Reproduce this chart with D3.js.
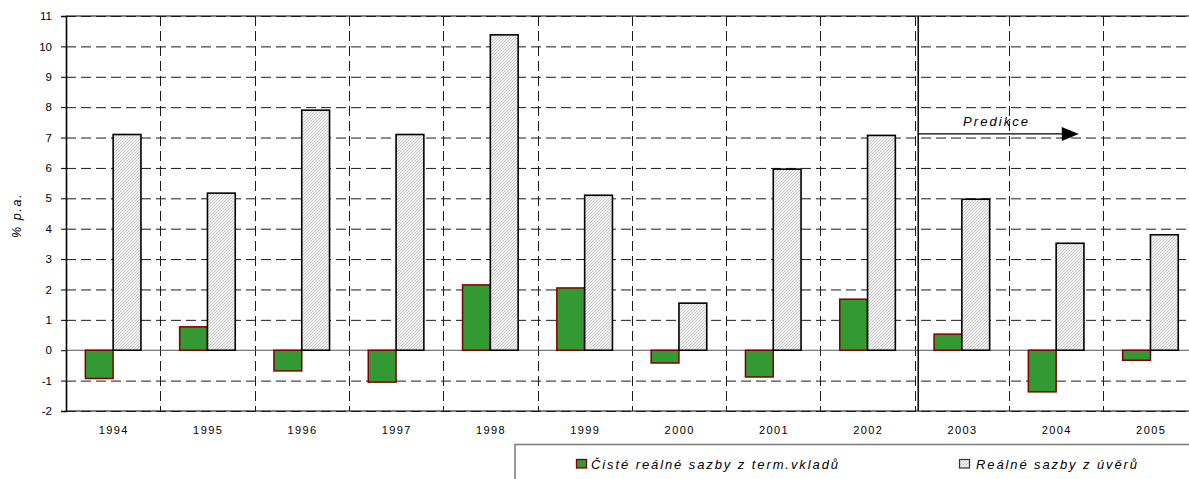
<!DOCTYPE html>
<html>
<head>
<meta charset="utf-8">
<script src="https://cdn.jsdelivr.net/npm/d3@7"></script>
<style>
  html, body { margin: 0; padding: 0; background: #fff; overflow: hidden; }
  svg { display: block; font-family: "Liberation Sans", Arial, sans-serif; }
</style>
</head>
<body>
<svg id="chart" width="1189" height="479"></svg>
<script>
// Years on the category axis
const years = ["1994","1995","1996","1997","1998","1999","2000","2001","2002","2003","2004","2005"];
// Net real deposit rates (% p.a.)
const depositRates = [-0.93, 0.77, -0.68, -1.05, 2.15, 2.05, -0.42, -0.88, 1.68, 0.53, -1.37, -0.33];
// Real loan rates (% p.a.)
const loanRates = [7.1, 5.17, 7.9, 7.1, 10.38, 5.1, 1.55, 5.96, 7.07, 4.97, 3.52, 3.8];
// Value axis ticks
const yTicks = [-2,-1,0,1,2,3,4,5,6,7,8,9,10,11];
// Series names
const seriesNames = ["Čisté reálné sazby z term.vkladů", "Reálné sazby z úvěrů"];
// First forecast year
const forecastStart = "2003";
const forecastLabel = "Predikce";
const yLabel = "% p.a.";

const svg = d3.select("#chart");
const plotLeft = 66, plotTop = 16, plotBottom = 411, plotRight = 1189, bandW = 94.3;

const x = d3.scaleBand().domain(years).range([plotLeft, plotLeft + bandW * years.length]).padding(0);
const y = d3.scaleLinear().domain([-2, 11]).range([plotBottom, plotTop]);
const barW = 27.8;

// fine diagonal hatch for loan-rate bars
const defs = svg.append("defs");
const pat = defs.append("pattern").attr("id", "hatch").attr("patternUnits", "userSpaceOnUse")
  .attr("width", 3).attr("height", 3);
pat.append("rect").attr("width", 3).attr("height", 3).attr("fill", "#f0f0f0");
pat.append("path").attr("d", "M-1,1 L1,-1 M0,3 L3,0 M2,4 L4,2").attr("stroke", "#bcbcbc").attr("stroke-width", 0.7);

// plot frame top / bottom (gray)
svg.append("g").selectAll("line").data([11, -2]).join("line")
  .attr("x1", plotLeft).attr("x2", plotRight)
  .attr("y1", d => y(d)).attr("y2", d => y(d))
  .attr("stroke", "#808080").attr("stroke-width", 2.2);

// horizontal dashed grid
svg.append("g").selectAll("line").data(yTicks.filter(d => d !== 0)).join("line")
  .attr("x1", plotLeft).attr("x2", plotRight)
  .attr("y1", d => y(d) + 0.5).attr("y2", d => y(d) + 0.5)
  .attr("stroke", "#1a1a1a").attr("stroke-width", 1).attr("stroke-dasharray", "10,5");

// vertical dashed grid at category boundaries
svg.append("g").selectAll("line").data(years.slice(1)).join("line")
  .attr("x1", d => Math.round(x(d)) + 0.5).attr("x2", d => Math.round(x(d)) + 0.5)
  .attr("y1", plotTop).attr("y2", plotBottom)
  .attr("stroke", "#1a1a1a").attr("stroke-width", 1).attr("stroke-dasharray", "10,5");

// zero line
svg.append("line").attr("x1", plotLeft).attr("x2", plotRight)
  .attr("y1", y(0)).attr("y2", y(0)).attr("stroke", "#555").attr("stroke-width", 1.2);

// deposit bars
svg.append("g").selectAll("rect").data(years).join("rect")
  .attr("x", (d) => x(d) + x.bandwidth() / 2 - barW)
  .attr("width", barW)
  .attr("y", (d, i) => y(Math.max(0, depositRates[i])))
  .attr("height", (d, i) => Math.abs(y(depositRates[i]) - y(0)))
  .attr("fill", "#339933").attr("stroke", "#800000").attr("stroke-width", 1.5);

// loan bars
svg.append("g").selectAll("rect").data(years).join("rect")
  .attr("x", (d) => x(d) + x.bandwidth() / 2)
  .attr("width", barW)
  .attr("y", (d, i) => y(Math.max(0, loanRates[i])))
  .attr("height", (d, i) => Math.abs(y(loanRates[i]) - y(0)))
  .attr("fill", "url(#hatch)").attr("stroke", "#000").attr("stroke-width", 1.6);

// value axis
const yAxis = d3.axisLeft(y).tickValues(yTicks).tickSize(5).tickPadding(9).tickFormat(d => String(d));
const ga = svg.append("g").attr("transform", `translate(${plotLeft},0)`).call(yAxis);
ga.select(".domain").attr("stroke", "#000").attr("stroke-width", 1.6);
ga.selectAll(".tick line").attr("stroke", "#000");
ga.selectAll(".tick text").attr("font-size", 11.5).attr("fill", "#000")
  .attr("font-family", "'Liberation Sans', Arial, sans-serif");

// category axis labels
svg.append("g").selectAll("text").data(years).join("text")
  .attr("x", d => x(d) + x.bandwidth() / 2 + 0.7)
  .attr("y", 434)
  .attr("text-anchor", "middle")
  .attr("font-size", 11).attr("letter-spacing", 1.4)
  .text(d => d);

// value axis title
svg.append("text")
  .attr("transform", `translate(21,${(plotTop + plotBottom) / 2 + 2}) rotate(-90)`)
  .attr("text-anchor", "middle")
  .attr("font-size", 12.5).attr("font-style", "italic").attr("letter-spacing", 1.6)
  .text(yLabel);

// forecast separator and arrow
const fx = x(forecastStart) + 3.5;
svg.append("line").attr("x1", fx).attr("x2", fx).attr("y1", plotTop).attr("y2", plotBottom)
  .attr("stroke", "#000").attr("stroke-width", 1.5);
const ay = y(7.12);
const tipX = x("2004") + x.bandwidth() * 0.74;
svg.append("line").attr("x1", fx).attr("x2", tipX - 14).attr("y1", ay).attr("y2", ay)
  .attr("stroke", "#000").attr("stroke-width", 1.2);
svg.append("path")
  .attr("d", `M${tipX},${ay} L${tipX - 17},${ay - 7} L${tipX - 17},${ay + 7} Z`)
  .attr("fill", "#000");
svg.append("text").attr("x", 963).attr("y", 126)
  .attr("font-size", 13).attr("font-style", "italic")
  .attr("textLength", 65).attr("lengthAdjust", "spacing")
  .text(forecastLabel);

// legend
const lg = svg.append("g");
lg.append("rect").attr("x", 515).attr("y", 444.5).attr("width", 700).attr("height", 60)
  .attr("fill", "#fff").attr("stroke", "#808080").attr("stroke-width", 1.6);
lg.append("rect").attr("x", 576.5).attr("y", 459.5).attr("width", 10).attr("height", 8.5)
  .attr("fill", "#339933").attr("stroke", "#800000").attr("stroke-width", 1.3);
lg.append("text").attr("x", 591).attr("y", 468.5).attr("font-size", 13).attr("font-style", "italic")
  .attr("textLength", 247).attr("lengthAdjust", "spacing").text(seriesNames[0]);
lg.append("rect").attr("x", 959.5).attr("y", 459.5).attr("width", 10).attr("height", 8.5)
  .attr("fill", "url(#hatch)").attr("stroke", "#333").attr("stroke-width", 1.2);
lg.append("text").attr("x", 976).attr("y", 468.5).attr("font-size", 13).attr("font-style", "italic")
  .attr("textLength", 161).attr("lengthAdjust", "spacing").text(seriesNames[1]);
</script>
</body>
</html>
